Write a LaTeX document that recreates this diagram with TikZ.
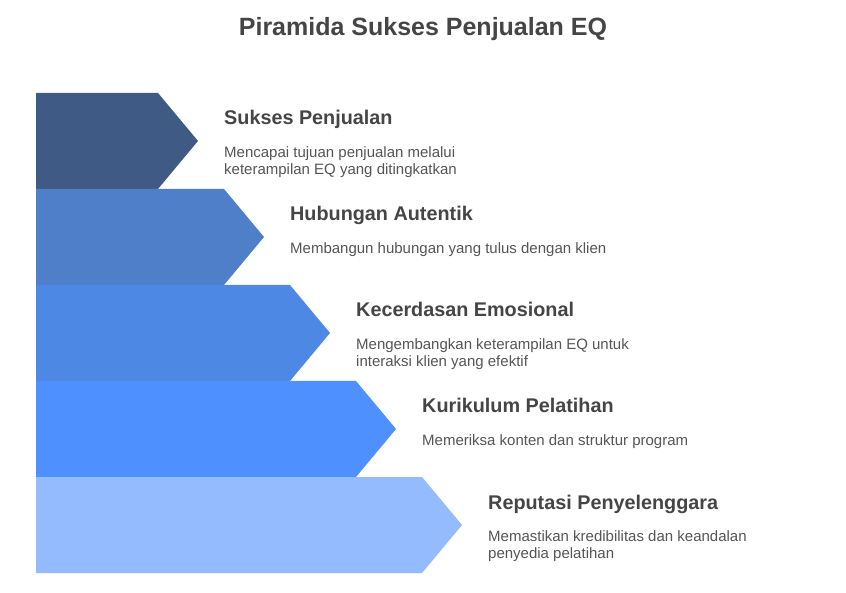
\documentclass[tikz,border=0pt]{standalone}
\usepackage{fontspec}
\setmainfont{Liberation Sans}
\usetikzlibrary{positioning}
\definecolor{levela}{HTML}{3F5B85}
\definecolor{levelb}{HTML}{4F7FC9}
\definecolor{levelc}{HTML}{4D88E5}
\definecolor{leveld}{HTML}{4D90FE}
\definecolor{levele}{HTML}{94BBFD}
\definecolor{headgray}{HTML}{454545}
\definecolor{descgray}{HTML}{555555}

\begin{document}
\begin{tikzpicture}[x=1pt, y=-1pt, every node/.style={inner sep=0pt}]
  % styles for the level texts
  \tikzset{head/.style={anchor=base west, text=headgray, font=\bfseries\fontsize{19.8}{24}\selectfont},
           desc/.style={anchor=base west, align=left, text=descgray, font=\fontsize{15}{17.5}\selectfont}}
  \useasboundingbox (0,0) rectangle (846,593);

  % title
  \node[anchor=base, text=headgray, font=\bfseries\fontsize{25}{30}\selectfont] (title) at (423,36) {Piramida Sukses Penjualan EQ};

  % stacked arrow bands, widest at the bottom
  \foreach \i/\c in {0/levela, 1/levelb, 2/levelc, 3/leveld, 4/levele}
    \fill[\c] (36,{93+96*\i}) -- ({158+66*\i},{93+96*\i}) -- ({198+66*\i},{141+96*\i})
      -- ({158+66*\i},{189+96*\i}) -- (36,{189+96*\i}) -- cycle;

  % level texts (base of a two-line text is its last line)
  \node[head] (head1) at (224,125) {Sukses Penjualan};
  \node[desc] (desc1) at (224,175) {Mencapai tujuan penjualan melalui\\keterampilan EQ yang ditingkatkan};
  \node[head] (head2) at (290,221) {Hubungan Autentik};
  \node[desc] (desc2) at (290,253.5) {Membangun hubungan yang tulus dengan klien};
  \node[head] (head3) at (356,317) {Kecerdasan Emosional};
  \node[desc] (desc3) at (356,367) {Mengembangkan keterampilan EQ untuk\\interaksi klien yang efektif};
  \node[head] (head4) at (422,413) {Kurikulum Pelatihan};
  \node[desc] (desc4) at (422,445.5) {Memeriksa konten dan struktur program};
  \node[head] (head5) at (488,509) {Reputasi Penyelenggara};
  \node[desc] (desc5) at (488,558.5) {Memastikan kredibilitas dan keandalan\\penyedia pelatihan};
\end{tikzpicture}
\end{document}
